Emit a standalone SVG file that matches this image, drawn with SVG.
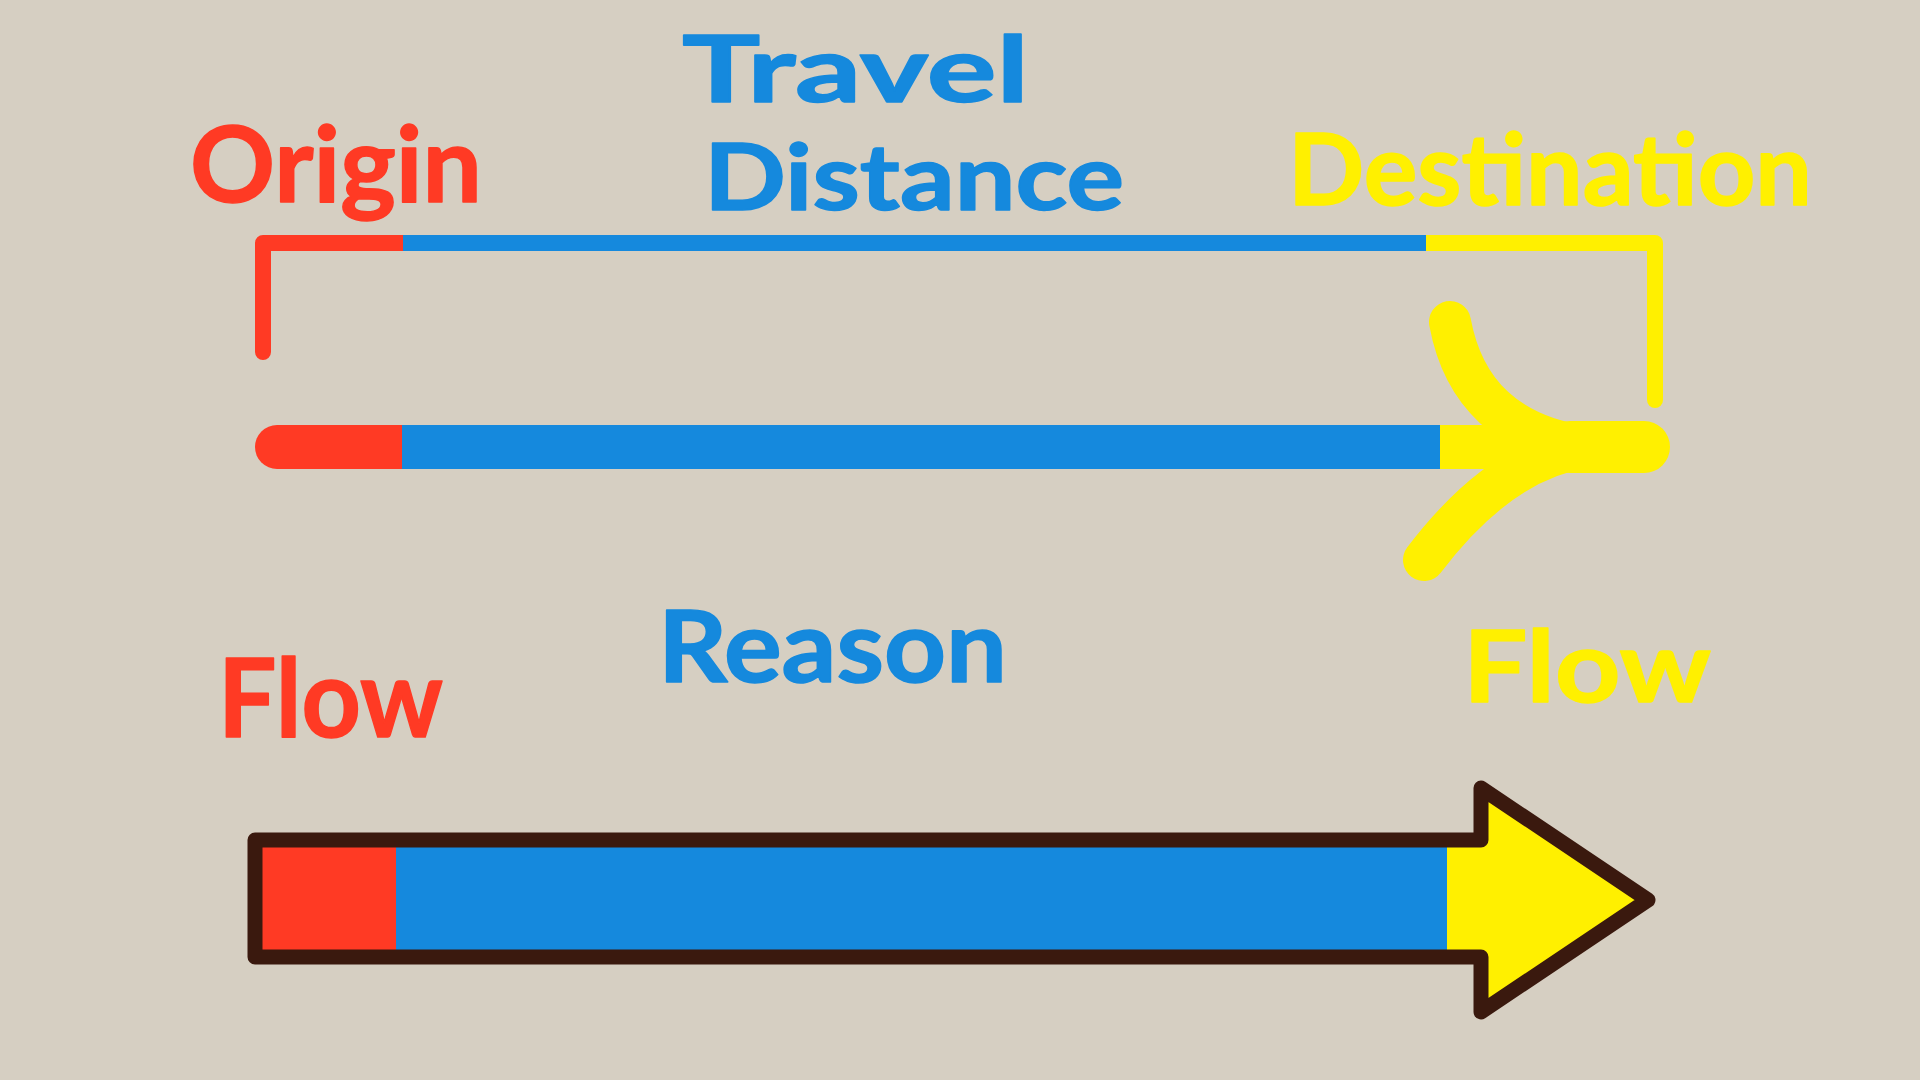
<svg xmlns="http://www.w3.org/2000/svg" width="1920" height="1080" viewBox="0 0 1920 1080">
<style>
.lbl{font-family:"Lato","Noto Sans","Liberation Sans",sans-serif;font-weight:bold;stroke-linejoin:round;stroke-width:1.5}
.red{fill:#ff3a24;stroke:#ff3a24}
.blue{fill:#1589dd;stroke:#1589dd}
.yel{fill:#fff000;stroke:#fff000}
.ln{fill:none;stroke-width:16}
.outline{fill:none;stroke:#3a190e;stroke-width:15;stroke-linejoin:round;stroke-linecap:round}
</style>
<rect width="1920" height="1080" fill="#d6cfc2"/>

<g id="label-origin"><text class="lbl red" x="190" y="202" font-size="105" textLength="292" lengthAdjust="spacingAndGlyphs">Origin</text></g>
<g id="label-travel-distance">
<text class="lbl blue" x="682" y="102" font-size="92" textLength="347" lengthAdjust="spacingAndGlyphs">Travel</text>
<text class="lbl blue" x="704" y="210" font-size="92" textLength="420" lengthAdjust="spacingAndGlyphs">Distance</text>
</g>
<g id="label-destination"><text class="lbl yel" x="1288" y="205" font-size="100" textLength="524" lengthAdjust="spacingAndGlyphs">Destination</text></g>

<g id="bracket">
<path class="ln" d="M263 352 V243 H403" stroke="#ff3a24" stroke-linecap="round" stroke-linejoin="round"/>
<path class="ln" d="M403 243 H1426" stroke="#1589dd"/>
<path class="ln" d="M1426 243 H1655 V400" stroke="#fff000" stroke-linejoin="round"/>
<circle cx="1655" cy="400" r="8" fill="#fff000"/>
</g>

<g id="middle-arrow">
<path d="M402 425 H277 A22 22 0 0 0 277 469 H402 Z" fill="#ff3a24"/>
<rect x="402" y="425" width="1038" height="44" fill="#1589dd"/>
<rect x="1440" y="425" width="150" height="44" fill="#fff000"/>
<path d="M1450 322 Q1470 430 1585 447 M1424 560 Q1500 460 1585 447" fill="none" stroke="#fff000" stroke-width="42" stroke-linecap="round"/>
<path d="M1570 447 H1644" fill="none" stroke="#fff000" stroke-width="52" stroke-linecap="round"/>
</g>

<g id="label-flow-left"><text class="lbl red" x="218" y="737" font-size="110" textLength="225" lengthAdjust="spacingAndGlyphs">Flow</text></g>
<g id="label-reason"><text class="lbl blue" x="658" y="682" font-size="100" textLength="349" lengthAdjust="spacingAndGlyphs">Reason</text></g>
<g id="label-flow-right"><text class="lbl yel" x="1463" y="702" font-size="100" textLength="248" lengthAdjust="spacingAndGlyphs">Flow</text></g>

<g id="bottom-arrow">
<rect x="255" y="840" width="141" height="117" fill="#ff3a24"/>
<rect x="396" y="840" width="1051" height="117" fill="#1589dd"/>
<path d="M1447 840 H1481 V788 L1648 900 L1481 1012 V957 H1447 Z" fill="#fff000"/>
<path class="outline" d="M255 840 H1481 V788 L1648 900 L1481 1012 V957 H255 Z"/>
</g>
</svg>
